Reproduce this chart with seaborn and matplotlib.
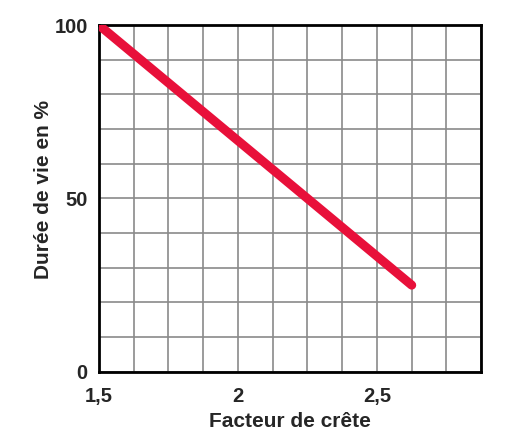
import matplotlib
matplotlib.use("Agg")
import matplotlib.pyplot as plt
import numpy as np
import pandas as pd
import seaborn as sns

crest_factor = [1.5, 2.625]
life_pct = [100, 25]
x_ticks = [1.5, 2.0, 2.5]
x_tick_labels = ["1,5", "2", "2,5"]
y_ticks = [0, 50, 100]
y_tick_labels = ["0", "50", "100"]

sns.set_theme(style="white")
plt.rcParams["font.family"] = ["Liberation Sans", "DejaVu Sans"]

df = pd.DataFrame({"x": crest_factor, "y": life_pct})

fig = plt.figure(figsize=(5.18, 4.48), dpi=100)
ax = fig.add_axes([0.191, 0.170, 0.738, 0.774])

ax.set_xlim(1.5, 2.875)
ax.set_ylim(0, 100)
ax.set_xticks(np.arange(1.5, 2.876, 0.125), minor=True)
ax.set_yticks(np.arange(0, 101, 10), minor=True)
ax.grid(which="minor", color="#8a8a8a", linewidth=1.2)
ax.grid(which="major", color="#8a8a8a", linewidth=1.2)
ax.set_axisbelow(True)

sns.lineplot(data=df, x="x", y="y", ax=ax, color="#e8103a", linewidth=6.5,
             solid_capstyle="round", zorder=5)

ax.set_xticks(x_ticks)
ax.set_xticklabels(x_tick_labels, fontsize=14.5, fontweight="bold")
ax.set_yticks(y_ticks)
ax.set_yticklabels(y_tick_labels, fontsize=14.5, fontweight="bold")
ax.tick_params(which="both", length=0)
ax.tick_params(axis="x", pad=11)
ax.tick_params(axis="y", pad=8)

for s in ax.spines.values():
    s.set_color("black")
    s.set_linewidth(2)
    s.set_visible(True)

ax.set_xlabel("Facteur de crête", fontsize=15, fontweight="bold", labelpad=4)
ax.set_ylabel("Durée de vie en %", fontsize=15, fontweight="bold", labelpad=1)
ax.yaxis.label.set_y(0.527)

fig.savefig("out.png", dpi=100)
